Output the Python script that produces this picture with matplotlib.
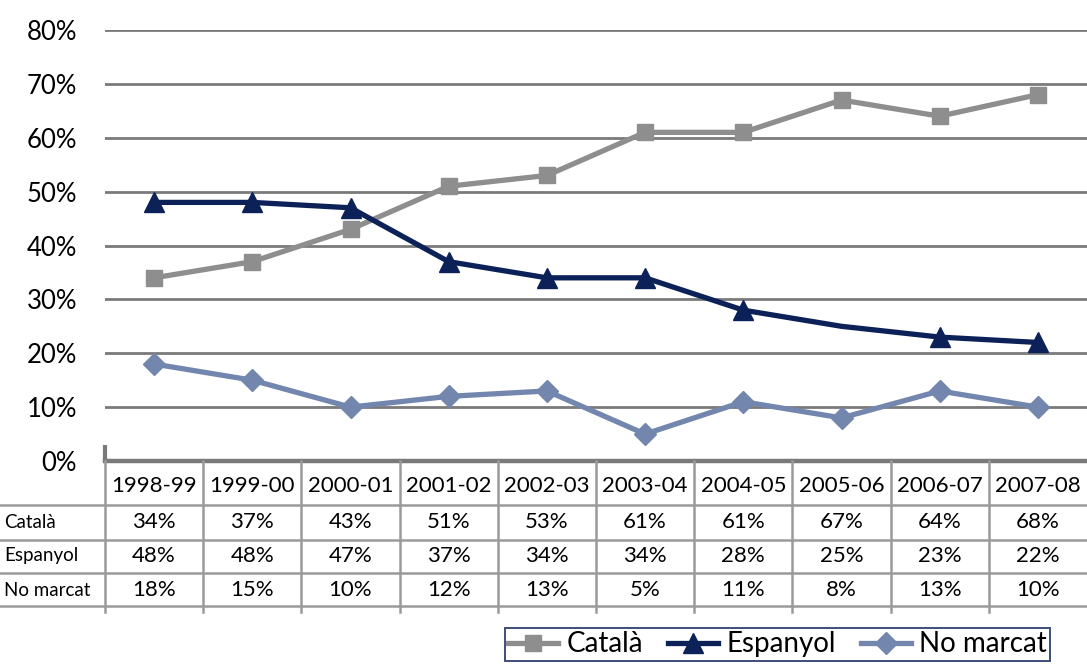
import matplotlib
matplotlib.use("Agg")
import matplotlib.pyplot as plt
import matplotlib.transforms as mtransforms
from matplotlib.ticker import FuncFormatter

plt.rcParams['font.family'] = ['Lato', 'DejaVu Sans']

# Data
years = ['1998-99', '1999-00', '2000-01', '2001-02', '2002-03',
         '2003-04', '2004-05', '2005-06', '2006-07', '2007-08']
catala = [34, 37, 43, 51, 53, 61, 61, 67, 64, 68]
espanyol = [48, 48, 47, 37, 34, 34, 28, 25, 23, 22]
no_marcat = [18, 15, 10, 12, 13, 5, 11, 8, 13, 10]
series_names = ['Català', 'Espanyol', 'No marcat']
series_vals = [catala, espanyol, no_marcat]

W, H = 1087, 664
fig = plt.figure(figsize=(W / 100, H / 100), dpi=100)

def fx(px):
    return px / W

def fy(py):
    return 1 - py / H

grid_col = '#7a7a7a'
c_cat = '#8e8e8e'
c_esp = '#0b2158'
c_nom = '#7386ad'

########################Line chart########################
ax = fig.add_axes([fx(105), fy(461), 1 - fx(105), fy(30) - fy(461)])
x = list(range(len(years)))
ax.plot(x, [v / 100 for v in catala], color=c_cat, lw=3.8, marker='s', ms=11, label='Català', zorder=3)
ax.plot(x, [v / 100 for v in espanyol], color=c_esp, lw=3.8, marker='^', ms=14,
        markevery=[0, 1, 2, 3, 4, 5, 6, 8, 9], label='Espanyol', zorder=4)
ax.plot(x, [v / 100 for v in no_marcat], color=c_nom, lw=3.8, marker='D', ms=11, label='No marcat', zorder=3)

ax.set_xlim(-0.5, len(years) - 0.5)
ax.set_ylim(0, 0.8)
ax.set_yticks([i / 10 for i in range(9)])
ax.yaxis.set_major_formatter(FuncFormatter(lambda v, p: f"{round(v * 100)}%"))
ax.tick_params(axis='y', length=0, pad=20, labelsize=18.5)
ax.set_xticks([])
for i in range(1, 9):
    ax.axhline(i / 10, color=grid_col, lw=2, zorder=1)
for s in ['top', 'right', 'left']:
    ax.spines[s].set_visible(False)
ax.spines['bottom'].set_color(grid_col)
ax.spines['bottom'].set_linewidth(3.2)
ax.plot([-0.5, -0.5], [0, 0.03], color=grid_col, lw=3, clip_on=False, solid_capstyle='butt')

########################Data table########################
tax = fig.add_axes([fx(105), fy(620), 1 - fx(105), fy(461) - fy(620)])
tax.set_xlim(-0.5, len(years) - 0.5)
tax.set_ylim(620, 461)
tax.axis('off')
tcol = '#9a9a9a'
blend = mtransforms.blended_transform_factory(fig.transFigure, tax.transData)
for yl in [505, 540, 573, 606]:
    tax.plot([0, 1], [yl, yl], color=tcol, lw=1.8, transform=blend, clip_on=False)
for i in range(len(years)):
    tax.plot([i - 0.5, i - 0.5], [461, 612], color=tcol, lw=1.8, clip_on=False)

row_y = [486, 522, 556, 590]
for i, yr in enumerate(years):
    tax.text(i, row_y[0], yr, ha='center', va='center', fontsize=16)
for r, (name, vals) in enumerate(zip(series_names, series_vals)):
    fig.text(fx(4), fy(row_y[r + 1]), name, ha='left', va='center', fontsize=13.5)
    for i, v in enumerate(vals):
        tax.text(i, row_y[r + 1], f"{v}%", ha='center', va='center', fontsize=16)

########################Legend########################
handles, labels = ax.get_legend_handles_labels()
leg = fig.legend(handles, labels, loc='upper left', bbox_to_anchor=(fx(505), fy(628)),
                 ncol=3, fontsize=20, frameon=True, fancybox=False, handlelength=1.8,
                 handletextpad=0.3, columnspacing=0.9, borderpad=0.12, borderaxespad=0)
leg.get_frame().set_edgecolor(c_esp)
leg.get_frame().set_linewidth(1.4)

plt.savefig('out.png', dpi=100)
